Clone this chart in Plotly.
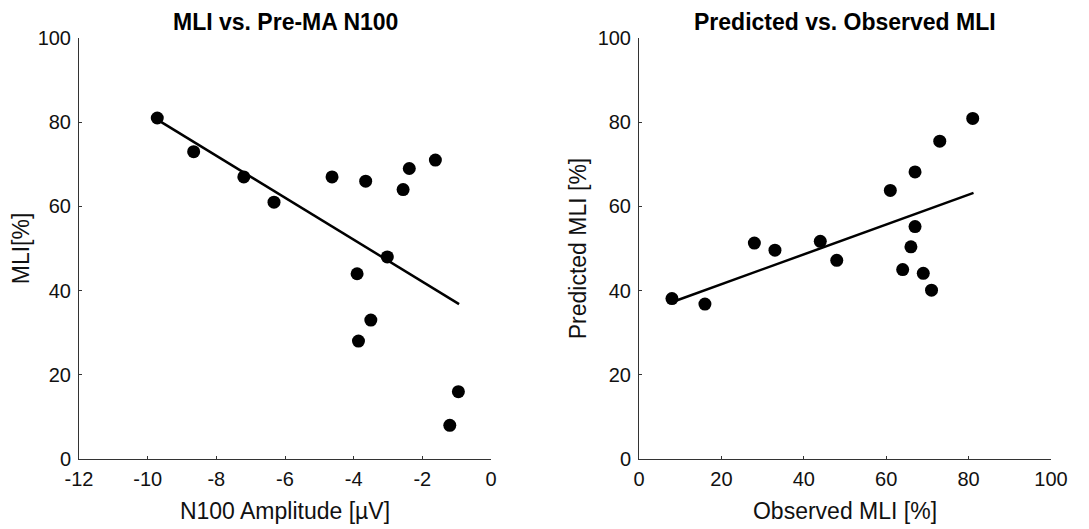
import plotly.graph_objects as go

# Left panel: N100 amplitude vs MLI
n100_amp = [-9.72, -8.66, -7.20, -6.32, -4.63, -3.65, -2.56, -2.38, -1.62,
            -3.02, -3.90, -3.50, -3.86, -0.95, -1.20]
mli_left = [81, 73, 67, 61, 67, 66, 64, 69, 71, 48, 44, 33, 28, 16, 8]
fit_left_x = [-9.72, -0.93]
fit_left_y = [80.6, 36.8]

# Right panel: observed vs predicted MLI
observed_mli = [8, 16, 28, 33, 44, 48, 61, 64, 66, 67, 67, 69, 71, 73, 81]
predicted_mli = [38.1, 36.8, 51.3, 49.6, 51.7, 47.2, 63.8, 45.0, 50.4, 55.2,
                 68.2, 44.1, 40.1, 75.5, 80.9]
fit_right_x = [8.1, 81.2]
fit_right_y = [37.3, 63.2]

left_x_tickvals = [-12, -10, -8, -6, -4, -2, 0]
left_x_ticktext = ["-12", "-10", "-8", "-6", "-4", "-2", "0"]
pct_tickvals = [0, 20, 40, 60, 80, 100]
pct_ticktext = ["0", "20", "40", "60", "80", "100"]

titles = ["MLI vs. Pre-MA N100", "Predicted vs. Observed MLI"]
x_titles = ["N100 Amplitude [µV]", "Observed MLI [%]"]
y_titles = ["MLI[%]", "Predicted MLI [%]"]

FONT = "Liberation Sans, Arial, sans-serif"
W, H = 1081, 521  # page body adds an 8px offset
OFF = 8

fig = go.Figure()

marker = dict(color="black", size=13)
line = dict(color="black", width=2.5)

fig.add_trace(go.Scatter(x=n100_amp, y=mli_left, mode="markers", marker=marker,
                         xaxis="x", yaxis="y", showlegend=False))
fig.add_trace(go.Scatter(x=fit_left_x, y=fit_left_y, mode="lines", line=line,
                         xaxis="x", yaxis="y", showlegend=False))
fig.add_trace(go.Scatter(x=observed_mli, y=predicted_mli, mode="markers", marker=marker,
                         xaxis="x2", yaxis="y2", showlegend=False))
fig.add_trace(go.Scatter(x=fit_right_x, y=fit_right_y, mode="lines", line=line,
                         xaxis="x2", yaxis="y2", showlegend=False))

ax_common = dict(showgrid=False, zeroline=False, showline=True, linecolor="#333",
                 linewidth=1, ticks="inside", ticklen=3, tickcolor="#333",
                 tickfont=dict(family=FONT, size=20, color="#111"),
                 mirror=False, automargin=False)
title_font = dict(family=FONT, size=23, color="#111")

dom_left = [(79 - OFF) / W, (491 - OFF) / W]
dom_right = [(639 - OFF) / W, (1051 - OFF) / W]
dom_y = [1 - (459 - OFF) / H, 1 - (38 - OFF) / H]

fig.update_layout(
    width=W, height=H,
    margin=dict(l=0, r=0, t=0, b=0),
    paper_bgcolor="white", plot_bgcolor="white",
    xaxis=dict(domain=dom_left, range=[-12, 0], tickvals=left_x_tickvals,
               ticktext=left_x_ticktext, anchor="y", ticklabelstandoff=2,
               title=dict(text=x_titles[0], font=title_font, standoff=13),
               **ax_common),
    yaxis=dict(domain=dom_y, range=[0, 100], tickvals=pct_tickvals,
               ticktext=pct_ticktext, anchor="x", ticklabelstandoff=3,
               title=dict(text=y_titles[0], font=title_font, standoff=8),
               **ax_common),
    xaxis2=dict(domain=dom_right, range=[0, 100], tickvals=pct_tickvals,
                ticktext=pct_ticktext, anchor="y2", ticklabelstandoff=2,
                title=dict(text=x_titles[1], font=title_font, standoff=13),
                **ax_common),
    yaxis2=dict(domain=dom_y, range=[0, 100], tickvals=pct_tickvals,
                ticktext=pct_ticktext, anchor="x2", ticklabelstandoff=3,
                title=dict(text=y_titles[1], font=title_font, standoff=4),
                **ax_common),
    annotations=[
        dict(text="<b>" + titles[0] + "</b>", x=(dom_left[0] + dom_left[1]) / 2,
             y=1 - (22 - OFF) / H,
             xref="paper", yref="paper", showarrow=False, xanchor="center", yanchor="middle",
             font=dict(family=FONT, size=23, color="black")),
        dict(text="<b>" + titles[1] + "</b>", x=(dom_right[0] + dom_right[1]) / 2,
             y=1 - (22 - OFF) / H,
             xref="paper", yref="paper", showarrow=False, xanchor="center", yanchor="middle",
             font=dict(family=FONT, size=23, color="black")),
    ],
)

fig.write_html("out.html")
